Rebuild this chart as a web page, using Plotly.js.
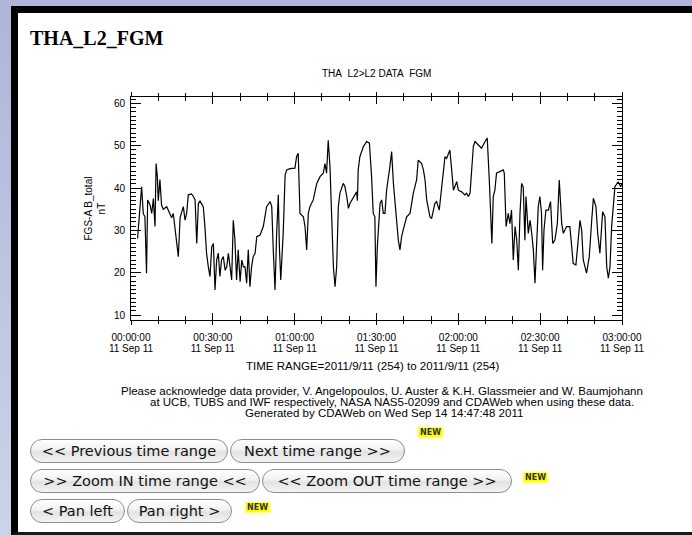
<!DOCTYPE html>
<html>
<head>
<meta charset="utf-8">
<script src="https://cdn.plot.ly/plotly-3.0.1.min.js"></script>
<style>
  html { scrollbar-width: none; }
  ::-webkit-scrollbar { display: none; width: 0; height: 0; }
  html, body { margin:0; padding:0; overflow:hidden; }
  body { position:relative; width:100vw; height:100vh; background: linear-gradient(#adb6d8, #ccd2e8); }
  #frame { position:absolute; left:11px; top:6px; right:-20px; height:519px;
           background:#fff; border-left:7px solid #000; border-top:7px solid #000;
           border-bottom:3px solid #1a1a1a; }
  #hdr { position:absolute; left:30px; top:27px; font-family:"Liberation Serif", serif;
         font-weight:bold; font-size:20px; color:#000; }
  #chart { position:absolute; left:0; top:0; width:692px; height:535px; z-index:6; }
  .btn { position:absolute; height:22px; border:1px solid #8c8c8c; border-radius:12px;
         background: linear-gradient(#ffffff, #f1f1f1 45%, #e2e2e2 55%, #f4f4f4);
         font-family:"DejaVu Sans", sans-serif; font-size:14.5px; color:#111; z-index:7;
         line-height:22px; text-align:center; white-space:pre; box-sizing:content-box; }
  .new { position:absolute; font-family:"DejaVu Sans", sans-serif; font-weight:bold; z-index:7;
         font-size:8px; line-height:9px; color:#333; background:#ffff00; padding:0 1px;
         box-shadow:0 0 2px 1px #ffff40; }
</style>
</head>
<body>
<div id="frame"></div>
<div id="hdr">THA_L2_FGM</div>
<div id="chart"></div>

<div class="btn" style="left:30px; top:439px; width:196px;">&lt;&lt; Previous time range</div>
<div class="btn" style="left:230px; top:439px; width:173px;">Next time range &gt;&gt;</div>
<div class="new" style="left:419px; top:428px;">NEW</div>
<div class="btn" style="left:30px; top:469px; width:228px;">&gt;&gt; Zoom IN time range &lt;&lt;</div>
<div class="btn" style="left:262px; top:469px; width:248px;">&lt;&lt; Zoom OUT time range &gt;&gt;</div>
<div class="new" style="left:524px; top:473px;">NEW</div>
<div class="btn" style="left:30px; top:499px; width:93px;">&lt; Pan left</div>
<div class="btn" style="left:127px; top:499px; width:103px;">Pan right &gt;</div>
<div class="new" style="left:246px; top:503px;">NEW</div>

<script>
// ---- data (minutes after 2011-09-11 00:00:00 UT, B_total in nT) ----
const minutes = [2.4,3.3,3.9,4.5,5.1,5.7,6.1,7.0,7.6,8.2,8.8,9.2,9.65,10.0,10.6,11.2,11.85,13.1,14.3,14.9,15.5,16.7,17.35,18.0,19.2,19.8,20.4,21.0,22.2,22.85,23.5,24.1,24.7,25.3,26.5,27.1,27.7,28.35,28.96,29.6,30.2,30.8,31.4,32.0,32.6,33.2,33.85,34.5,35.1,35.7,36.3,36.9,37.5,38.1,38.7,39.3,40.0,40.6,41.2,41.8,42.4,43.0,43.6,44.2,44.8,45.5,46.1,47.3,48.5,49.7,51.0,51.6,52.2,52.8,53.4,54.0,54.4,54.9,55.8,56.5,57.1,58.3,60.1,60.7,61.3,61.95,63.2,63.8,64.4,65.0,65.6,66.8,68.1,69.3,70.5,71.1,71.7,72.3,72.95,73.6,74.2,74.8,75.4,76.0,76.6,77.8,78.45,79.1,79.7,80.3,81.5,82.7,83.0,83.3,83.9,85.2,86.4,87.4,88.2,88.8,89.4,89.8,90.3,91.3,91.9,92.5,93.1,93.7,94.9,95.55,96.2,97.4,98.0,98.6,99.2,99.8,101.05,102.3,103.5,104.7,105.3,106.55,107.2,107.8,108.4,109.6,110.2,111.4,112.05,113.0,113.9,115.1,115.7,116.9,117.55,118.2,119.4,120.0,121.2,122.4,123.0,123.7,124.3,124.9,125.5,126.1,127.3,128.5,129.8,130.6,131.35,131.96,132.3,132.8,133.4,134.0,135.3,136.5,136.85,137.5,138.3,138.9,139.5,140.15,140.8,141.4,142.0,142.6,143.2,143.8,144.4,144.8,145.65,146.3,146.9,147.5,148.1,148.7,149.3,149.9,150.5,150.9,151.4,152.1,153.0,153.8,154.6,155.4,156.3,157.0,157.9,158.5,159.7,160.9,161.5,162.1,163.1,164.0,164.6,165.2,165.8,167.0,168.0,168.9,169.5,170.45,171.1,171.9,172.9,173.75,174.4,175.0,175.6,176.2,177.4,178.6,179.5,180.0];
const btotal = [28.1,34.8,40.3,34.0,33.2,19.9,37.2,36.0,34.0,37.5,30.9,45.8,42.7,37.0,42.0,36.0,35.0,35.6,34.0,33.0,34.0,27.7,23.8,33.0,35.6,32.4,34.0,38.4,38.6,38.0,37.2,26.9,36.4,36.9,35.6,30.9,24.6,21.4,19.1,26.1,26.9,15.9,23.0,24.6,19.1,23.0,23.8,20.6,21.4,24.6,21.4,18.3,32.4,27.7,18.3,25.4,17.9,23.0,21.4,21.4,17.5,25.4,16.7,21.4,23.8,24.6,28.5,28.9,30.9,35.6,36.8,35.6,24.6,15.9,29.3,38.4,26.1,18.3,29.3,43.1,44.3,44.6,44.7,47.4,48.2,34.0,33.2,30.9,25.4,34.0,35.6,37.2,41.1,42.7,43.5,45.8,43.5,51.3,45.0,32.4,21.4,16.7,21.4,35.6,38.8,41.1,40.3,38.0,35.2,36.4,37.6,39.1,37.0,44.3,47.4,49.8,51.0,50.6,42.7,34.0,33.2,16.7,26.1,36.4,37.2,34.0,34.0,39.5,45.0,48.6,41.1,30.9,27.7,25.4,28.5,30.1,33.2,34.0,38.8,41.9,46.6,45.8,44.3,41.9,37.2,33.2,32.8,36.4,36.8,34.8,40.3,47.4,47.0,49.0,44.3,39.5,41.5,39.5,39.1,38.4,38.8,38.0,38.8,43.5,49.8,51.0,50.2,49.4,51.0,51.8,41.9,32.4,26.9,38.0,39.5,43.5,43.9,44.3,43.5,30.9,34.0,31.6,34.8,23.0,30.9,27.7,20.6,34.0,41.1,40.3,27.7,38.0,29.3,32.4,29.3,25.4,17.5,27.7,35.6,38.0,34.0,20.6,30.1,34.8,34.8,36.8,26.9,27.7,31.6,41.9,31.6,29.3,30.9,30.9,26.1,22.2,21.8,28.5,32.4,30.1,23.0,19.9,23.8,32.4,37.6,35.6,29.3,24.6,34.4,33.2,21.4,18.7,21.4,30.9,40.3,41.5,40.3,41.1];
const tickMinutes = [0,30,60,90,120,150,180];
const tickTimes = ["00:00:00","00:30:00","01:00:00","01:30:00","02:00:00","02:30:00","03:00:00"];
const tickDates = ["11 Sep 11","11 Sep 11","11 Sep 11","11 Sep 11","11 Sep 11","11 Sep 11","11 Sep 11"];
const yTicks = [10,20,30,40,50,60];
const plotTitle = "THA\u00a0\u00a0L2>L2 DATA\u00a0\u00a0FGM";
const yTitle = "FGS-A B_total<br>nT";
const timeRange = "TIME RANGE=2011/9/11 (254) to 2011/9/11 (254)";
const ackLines = [
  "Please acknowledge data provider, V. Angelopoulos, U. Auster & K.H. Glassmeier and W. Baumjohann",
  "at UCB, TUBS and IWF respectively, NASA NAS5-02099 and CDAWeb when using these data.",
  "Generated by CDAWeb on Wed Sep 14 14:47:48 2011"
];

// ---- build ----
const base = Date.UTC(2011, 8, 11);
function toDate(m) {
  return new Date(base + Math.round(m * 60000)).toISOString().replace('T', ' ').replace('Z', '');
}
const xs = minutes.map(toDate);
const tickvals = tickMinutes.map(toDate);
const xRange = [toDate(0), toDate(180)];

const W = 692, H = 535, ML = 131, MR = 70, MT = 97, MB = 215;
const PH = H - MT - MB, PW = W - ML - MR;
const py = p => (H - MB - p) / PH;   // pixel y -> paper y
const px = p => (p - ML) / PW;       // pixel x -> paper x

const FONT = "Liberation Sans, Arial, sans-serif";
const tf = {family: FONT, size: 10, color: '#000'};
const af = {family: FONT, size: 11.5, color: '#000'};

const traces = [
  {x: xs, y: btotal, type: 'scatter', mode: 'lines', xaxis: 'x', yaxis: 'y',
   line: {color: '#000', width: 1.2}, hoverinfo: 'skip', showlegend: false},
  {x: xs, y: btotal, type: 'scatter', mode: 'lines', xaxis: 'x2', yaxis: 'y',
   line: {color: 'rgba(0,0,0,0)', width: 0}, hoverinfo: 'skip', showlegend: false}
];

const layout = {
  width: W, height: H,
  margin: {l: ML, r: MR, t: MT, b: MB, pad: 0},
  paper_bgcolor: 'rgba(0,0,0,0)', plot_bgcolor: 'rgba(0,0,0,0)',
  showlegend: false,
  xaxis: {type: 'date', range: xRange, tickmode: 'array', tickvals: tickvals, ticktext: tickTimes,
          ticks: 'inside', ticklen: 7, tickwidth: 1, tickcolor: '#000', mirror: 'ticks',
          showline: true, linecolor: '#000', linewidth: 1, showgrid: false, zeroline: false,
          tickfont: tf, ticklabelstandoff: 8,
          minor: {tickmode: 'linear', tick0: toDate(0), dtick: 600000, ticks: 'inside', ticklen: 4,
                  tickcolor: '#000', tickwidth: 1, showgrid: false}},
  xaxis2: {type: 'date', range: xRange, overlaying: 'x', anchor: 'y', side: 'bottom',
           tickmode: 'array', tickvals: tickvals, ticktext: tickDates, showticklabels: true,
           tickfont: tf, ticklabelstandoff: 15,
           ticks: 'outside', ticklen: 4, tickwidth: 1, tickcolor: '#000', mirror: 'ticks',
           showline: false, showgrid: false, zeroline: false,
           minor: {tickmode: 'linear', tick0: toDate(0), dtick: 600000, ticks: 'outside', ticklen: 3,
                   tickcolor: '#000', tickwidth: 1, showgrid: false}},
  yaxis: {range: [8.83, 61.51], tickmode: 'array', tickvals: yTicks, ticktext: yTicks.map(String),
          ticks: 'inside', ticklen: 10, tickwidth: 1, tickcolor: '#000', mirror: 'ticks',
          showline: true, linecolor: '#000', linewidth: 1, showgrid: false, zeroline: false,
          tickfont: tf, ticklabelstandoff: 3,
          minor: {tickmode: 'linear', tick0: 0, dtick: 1, ticks: 'inside', ticklen: 5,
                  tickcolor: '#000', tickwidth: 1, showgrid: false}},
  annotations: [
    {text: plotTitle, xref: 'paper', yref: 'paper', x: 0.5, y: py(74), showarrow: false,
     xanchor: 'center', yanchor: 'middle', font: tf},
    {text: yTitle, xref: 'paper', yref: 'paper', x: px(94), y: 0.5, showarrow: false, textangle: -90,
     xanchor: 'center', yanchor: 'middle', font: tf},
    {text: timeRange, xref: 'paper', yref: 'paper', x: px(372), y: py(366), showarrow: false,
     xanchor: 'center', yanchor: 'middle', font: af},
    {text: ackLines[0], xref: 'paper', yref: 'paper', x: px(382), y: py(391), showarrow: false,
     xanchor: 'center', yanchor: 'middle', font: af},
    {text: ackLines[1], xref: 'paper', yref: 'paper', x: px(392), y: py(402), showarrow: false,
     xanchor: 'center', yanchor: 'middle', font: af},
    {text: ackLines[2], xref: 'paper', yref: 'paper', x: px(384), y: py(413), showarrow: false,
     xanchor: 'center', yanchor: 'middle', font: af}
  ]
};

Plotly.newPlot('chart', traces, layout, {displayModeBar: false, staticPlot: true});
</script>
</body>
</html>
